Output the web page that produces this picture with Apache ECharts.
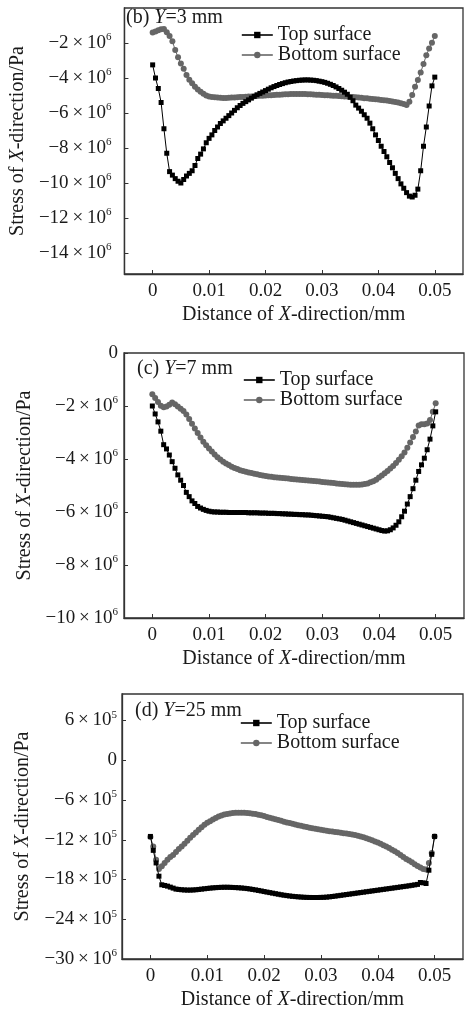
<!DOCTYPE html>
<html>
<head>
<meta charset="utf-8">
<script src="https://cdn.jsdelivr.net/npm/echarts@6/dist/echarts.min.js"></script>
<style>
html,body{margin:0;padding:0;background:#fff;}
#chart{width:465px;height:1012px;}
</style>
</head>
<body>
<div id="chart"></div>
<script>
// Shared sampling positions along X (mm)
const xs = [0,0.0005,0.001,0.0015,0.002,0.0025,0.003,0.0035,0.004,0.0045,
0.005,0.0055,0.006,0.0065,0.007,0.0075,0.008,0.0085,0.009,0.0095,
0.01,0.0105,0.011,0.0115,0.012,0.0125,0.013,0.0135,0.014,0.0145,
0.015,0.0155,0.016,0.0165,0.017,0.0175,0.018,0.0185,0.019,0.0195,
0.02,0.0205,0.021,0.0215,0.022,0.0225,0.023,0.0235,0.024,0.0245,
0.025,0.0255,0.026,0.0265,0.027,0.0275,0.028,0.0285,0.029,0.0295,
0.03,0.0305,0.031,0.0315,0.032,0.0325,0.033,0.0335,0.034,0.0345,
0.035,0.0355,0.036,0.0365,0.037,0.0375,0.038,0.0385,0.039,0.0395,
0.04,0.0405,0.041,0.0415,0.042,0.0425,0.043,0.0435,0.044,0.0445,
0.045,0.0455,0.046,0.0465,0.047,0.0475,0.048,0.0485,0.049,0.0495,0.05];

// (b) Y=3 mm, stress in 10^6 Pa
const topB = [-3.25,-4.0,-4.6,-5.4,-6.9,-8.3,-9.35,-9.55,-9.75,-9.9,
-10.0,-9.8,-9.6,-9.45,-9.3,-9.0,-8.6,-8.35,-8.05,-7.7,
-7.45,-7.25,-7.0,-6.8,-6.6,-6.45,-6.3,-6.15,-6.0,-5.85,
-5.7,-5.57,-5.45,-5.35,-5.25,-5.15,-5.05,-4.96,-4.88,-4.8,
-4.72,-4.64,-4.56,-4.49,-4.43,-4.37,-4.32,-4.27,-4.23,-4.2,
-4.17,-4.15,-4.13,-4.12,-4.11,-4.11,-4.12,-4.13,-4.15,-4.18,
-4.21,-4.25,-4.3,-4.36,-4.43,-4.51,-4.6,-4.7,-4.81,-4.93,
-5.1,-5.3,-5.55,-5.72,-5.9,-6.1,-6.3,-6.58,-6.9,-7.25,
-7.57,-7.9,-8.2,-8.5,-8.83,-9.13,-9.45,-9.75,-10.05,-10.3,
-10.55,-10.75,-10.8,-10.7,-10.35,-9.3,-7.9,-6.8,-5.6,-4.45,-3.95];
const bottomB = [-1.4,-1.34,-1.27,-1.21,-1.2,-1.39,-1.6,-1.9,-2.4,-2.82,
-3.17,-3.47,-3.83,-4.1,-4.3,-4.5,-4.65,-4.78,-4.9,-5.0,
-5.05,-5.08,-5.1,-5.12,-5.13,-5.14,-5.14,-5.13,-5.12,-5.11,
-5.1,-5.09,-5.08,-5.07,-5.06,-5.05,-5.04,-5.03,-5.02,-5.01,
-5.0,-4.99,-4.98,-4.97,-4.96,-4.95,-4.94,-4.93,-4.93,-4.92,
-4.92,-4.92,-4.92,-4.92,-4.92,-4.93,-4.93,-4.94,-4.95,-4.96,
-4.97,-4.98,-4.99,-5.0,-5.01,-5.02,-5.03,-5.04,-5.05,-5.06,
-5.08,-5.09,-5.1,-5.12,-5.13,-5.15,-5.16,-5.18,-5.2,-5.21,
-5.23,-5.25,-5.27,-5.29,-5.31,-5.34,-5.37,-5.4,-5.44,-5.48,
-5.54,-5.35,-4.97,-4.5,-4.12,-3.68,-3.2,-2.7,-2.32,-1.98,-1.6];

// (c) Y=7 mm, stress in 10^6 Pa
const topC = [-2.0,-2.3,-2.6,-2.95,-3.46,-3.62,-3.85,-4.1,-4.35,-4.6,
-4.8,-5.0,-5.26,-5.42,-5.58,-5.68,-5.79,-5.85,-5.9,-5.94,
-5.97,-5.99,-6.0,-6.0,-6.01,-6.01,-6.01,-6.02,-6.02,-6.02,
-6.02,-6.02,-6.02,-6.02,-6.03,-6.03,-6.03,-6.03,-6.04,-6.04,
-6.04,-6.05,-6.05,-6.05,-6.06,-6.06,-6.07,-6.07,-6.08,-6.08,
-6.09,-6.09,-6.1,-6.1,-6.11,-6.11,-6.12,-6.13,-6.14,-6.15,
-6.16,-6.17,-6.18,-6.2,-6.22,-6.24,-6.26,-6.28,-6.31,-6.34,
-6.37,-6.4,-6.43,-6.46,-6.49,-6.52,-6.55,-6.58,-6.61,-6.64,
-6.67,-6.7,-6.72,-6.71,-6.67,-6.6,-6.5,-6.37,-6.18,-5.97,
-5.7,-5.42,-5.12,-4.8,-4.47,-4.22,-3.97,-3.65,-3.25,-2.75,-2.22];
const bottomC = [-1.56,-1.7,-1.85,-1.99,-2.05,-2.02,-1.95,-1.87,-1.93,-2.02,
-2.1,-2.19,-2.32,-2.49,-2.67,-2.85,-3.02,-3.19,-3.35,-3.48,
-3.6,-3.72,-3.83,-3.93,-4.02,-4.1,-4.17,-4.23,-4.29,-4.34,
-4.38,-4.42,-4.45,-4.48,-4.51,-4.53,-4.56,-4.58,-4.6,-4.62,
-4.64,-4.66,-4.67,-4.69,-4.7,-4.71,-4.72,-4.73,-4.74,-4.75,
-4.76,-4.77,-4.78,-4.79,-4.8,-4.81,-4.82,-4.83,-4.84,-4.85,
-4.87,-4.88,-4.89,-4.9,-4.91,-4.92,-4.93,-4.94,-4.95,-4.96,
-4.97,-4.97,-4.97,-4.97,-4.96,-4.94,-4.92,-4.88,-4.84,-4.78,
-4.7,-4.62,-4.54,-4.45,-4.36,-4.26,-4.15,-4.03,-3.9,-3.75,
-3.58,-3.38,-3.17,-2.96,-2.74,-2.69,-2.69,-2.66,-2.53,-2.22,-1.9];

// (d) Y=25 mm, stress in 10^5 Pa
const topD = [-11.5,-13.6,-15.5,-17.5,-18.8,-18.9,-19.0,-19.15,-19.3,-19.45,
-19.5,-19.55,-19.58,-19.6,-19.6,-19.58,-19.55,-19.5,-19.45,-19.4,
-19.35,-19.3,-19.26,-19.23,-19.2,-19.18,-19.17,-19.17,-19.18,-19.2,
-19.22,-19.25,-19.28,-19.32,-19.37,-19.43,-19.5,-19.57,-19.65,-19.73,
-19.82,-19.9,-19.98,-20.06,-20.14,-20.22,-20.3,-20.37,-20.43,-20.49,
-20.54,-20.58,-20.62,-20.65,-20.68,-20.7,-20.71,-20.72,-20.72,-20.72,
-20.7,-20.69,-20.66,-20.62,-20.57,-20.51,-20.45,-20.39,-20.33,-20.27,
-20.21,-20.15,-20.09,-20.03,-19.97,-19.91,-19.85,-19.79,-19.73,-19.67,
-19.61,-19.55,-19.49,-19.43,-19.37,-19.31,-19.25,-19.19,-19.13,-19.07,
-19.01,-18.95,-18.88,-18.81,-18.74,-18.45,-18.5,-18.6,-16.6,-14.2,-11.5];
const bottomD = [-11.6,-13.0,-15.0,-16.4,-16.0,-15.5,-15.0,-14.6,-14.3,-13.85,
-13.4,-13.0,-12.6,-12.15,-11.7,-11.3,-10.9,-10.5,-10.1,-9.75,
-9.45,-9.2,-8.95,-8.7,-8.5,-8.35,-8.2,-8.1,-8.02,-7.97,
-7.94,-7.92,-7.92,-7.93,-7.96,-8.0,-8.06,-8.13,-8.22,-8.32,
-8.43,-8.55,-8.67,-8.79,-8.91,-9.03,-9.15,-9.27,-9.38,-9.49,
-9.6,-9.7,-9.8,-9.9,-9.99,-10.08,-10.17,-10.26,-10.35,-10.43,
-10.5,-10.57,-10.64,-10.7,-10.76,-10.82,-10.88,-10.94,-11.0,-11.06,
-11.13,-11.21,-11.3,-11.4,-11.51,-11.63,-11.77,-11.92,-12.08,-12.25,
-12.43,-12.62,-12.82,-13.03,-13.24,-13.5,-13.75,-14.0,-14.3,-14.6,
-14.9,-15.15,-15.4,-15.7,-15.95,-16.2,-16.4,-16.5,-15.5,-14.0,-11.5];

// Tick values
const xTicks = [0,0.01,0.02,0.03,0.04,0.05];
const yTicksB = [-2,-4,-6,-8,-10,-12,-14];
const yTicksC = [0,-2,-4,-6,-8,-10];
const yTicksD = [6,0,-6,-12,-18,-24,-30];
// Tick label texts (mantissa, exponent)
const yLabelsB = {'-2':['−2','6'],'-4':['−4','6'],'-6':['−6','6'],'-8':['−8','6'],'-10':['−10','6'],'-12':['−12','6'],'-14':['−14','6']};
const yLabelsC = {'0':['0',''],'-2':['−2','6'],'-4':['−4','6'],'-6':['−6','6'],'-8':['−8','6'],'-10':['−10','6']};
const yLabelsD = {'6':['6','5'],'0':['0',''],'-6':['−6','5'],'-12':['−12','5'],'-18':['−18','5'],'-24':['−24','5'],'-30':['−30','6']};

const panelTitles = ['(b) {i|Y}=3 mm','(c) {i|Y}=7 mm','(d) {i|Y}=25 mm'];
const seriesNames = ['Top surface','Bottom surface'];

const F = "'Liberation Serif','DejaVu Serif',serif";
const TXT = '#1a1a1a';
const AX = '#333';

function pairs(y){ return xs.map((x,i)=>[x,y[i]]); }

function yFmt(map){
  return function(v){
    const k = String(Math.round(v*1000)/1000);
    const e = map[k];
    if(!e) return '';
    if(e[1]==='') return '{n|'+e[0]+'}';
    return '{n|'+e[0]+'\u2009×\u200910}{s|'+e[1]+'}';
  };
}
const yRich = {
  n:{fontFamily:F,fontSize:19,color:TXT,lineHeight:22},
  s:{fontFamily:F,fontSize:11,color:TXT,lineHeight:22,verticalAlign:'top',padding:[0,0,9,0]}
};
const italicRich = {i:{fontFamily:F,fontSize:20,fontStyle:'italic',color:TXT}};

const grids = [
  {left:123, top:8, width:340, height:266},
  {left:124, top:353, width:340, height:265},
  {left:122, top:694, width:341, height:265}
];
const yRanges = [[-15.2,0],[-10,0],[-30,10]];
const yTickSets = [yTicksB,yTicksC,yTicksD];
const yLabelSets = [yLabelsB,yLabelsC,yLabelsD];
const yMargins = [13,6,5];
const data = [[topB,bottomB],[topC,bottomC],[topD,bottomD]];
const titlePos = [[126,8],[137,359],[135,701]];
const legendPos = [[241,25],[243,370],[240,713]];

const option = {
  animation:false,
  backgroundColor:'#fff',
  title: panelTitles.map((t,k)=>({
    text:t, left:titlePos[k][0], top:titlePos[k][1], padding:0,
    textStyle:{fontFamily:F,fontSize:20,fontWeight:'normal',color:TXT,lineHeight:20,rich:italicRich}
  })),
  legend: legendPos.map(p=>({
    data:seriesNames, orient:'vertical', left:p[0], top:p[1], padding:0,
    itemWidth:31, itemHeight:8, itemGap:0, selectedMode:false,
    lineStyle:{width:1.6},
    textStyle:{fontFamily:F,fontSize:20,color:TXT,lineHeight:20}
  })),
  grid: grids.map(g=>Object.assign({show:true,borderColor:AX,borderWidth:1.3,backgroundColor:'transparent'},g)),
  xAxis: grids.map((g,k)=>({
    type:'value', gridIndex:k, min:-0.005, max:0.055,
    axisLine:{show:true,onZero:false,lineStyle:{color:AX,width:1.3}},
    axisTick:{show:true,inside:true,length:4,lineStyle:{color:AX},customValues:xTicks},
    axisLabel:{fontFamily:F,fontSize:19,color:TXT,margin:8,customValues:xTicks,
      formatter:v=>String(Math.round(v*1000)/1000)},
    splitLine:{show:false},
    name:'Distance of {i|X}-direction/mm', nameLocation:'middle', nameGap:31,
    nameTextStyle:{fontFamily:F,fontSize:20,color:TXT,rich:italicRich}
  })),
  yAxis: grids.map((g,k)=>({
    type:'value', gridIndex:k, min:yRanges[k][0], max:yRanges[k][1],
    axisLine:{show:true,onZero:false,lineStyle:{color:AX,width:1.3}},
    axisTick:{show:true,inside:true,length:4,lineStyle:{color:AX},customValues:yTickSets[k]},
    axisLabel:{margin:yMargins[k],customValues:yTickSets[k],formatter:yFmt(yLabelSets[k]),rich:yRich},
    splitLine:{show:false},
    name:'Stress of {i|X}-direction/Pa', nameLocation:'middle', nameGap:89, nameRotate:90,
    nameTextStyle:{fontFamily:F,fontSize:20,color:TXT,rich:italicRich}
  })),
  series: []
};
data.forEach((pair,k)=>{
  option.series.push({
    name:seriesNames[1], type:'line', xAxisIndex:k, yAxisIndex:k,
    data:pairs(pair[1]), symbol:'circle', symbolSize:6, showAllSymbol:true,
    itemStyle:{color:'#666'}, lineStyle:{color:'#666',width:1}, z:2
  });
  option.series.push({
    name:seriesNames[0], type:'line', xAxisIndex:k, yAxisIndex:k,
    data:pairs(pair[0]), symbol:'rect', symbolSize:5, showAllSymbol:true,
    itemStyle:{color:'#000'}, lineStyle:{color:'#000',width:1}, z:3
  });
});

const chart = echarts.init(document.getElementById('chart'),null,{renderer:'canvas'});
chart.setOption(option);
</script>
</body>
</html>
